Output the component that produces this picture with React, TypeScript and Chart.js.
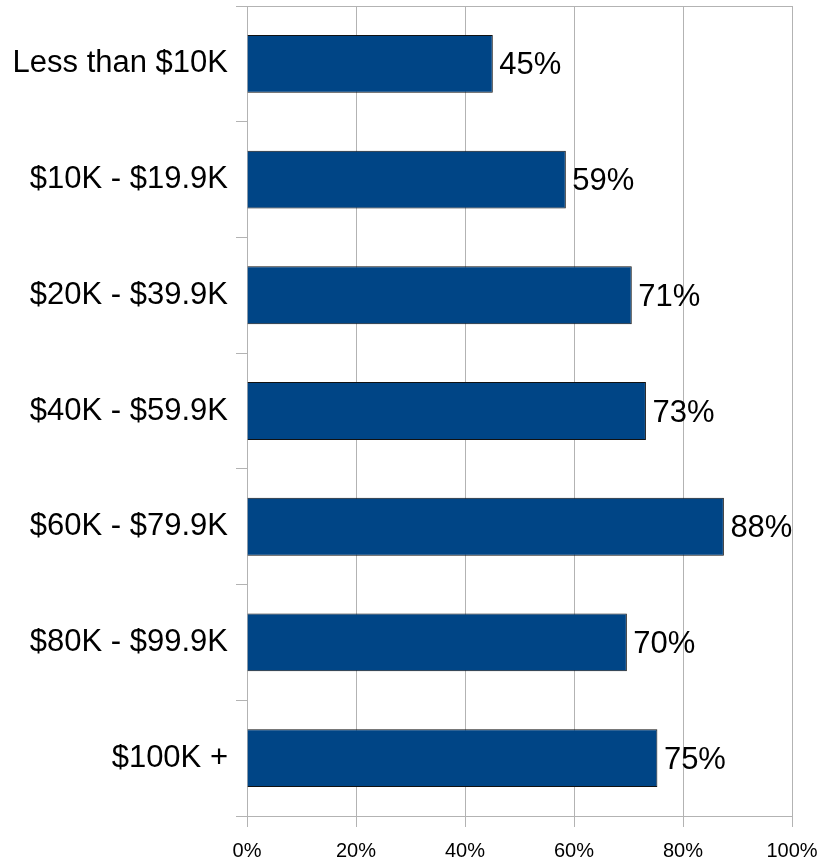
import React, { useEffect, useRef } from "react";
import { Chart, registerables } from "chart.js";

Chart.register(...registerables);

const categories = [
  "Less than $10K",
  "$10K - $19.9K",
  "$20K - $39.9K",
  "$40K - $59.9K",
  "$60K - $79.9K",
  "$80K - $99.9K",
  "$100K +",
];
const values = [45.1, 58.5, 70.6, 73.2, 87.5, 69.7, 75.3];
const xTicks = [0, 20, 40, 60, 80, 100];

const FONT = "'Liberation Sans', Arial, sans-serif";
const GRID = "#b3b3b3";

const valueLabels = {
  id: "valueLabels",
  afterDatasetsDraw(chart: any) {
    const ctx = chart.ctx;
    const meta = chart.getDatasetMeta(0);
    ctx.save();
    ctx.font = `31px ${FONT}`;
    ctx.fillStyle = "#000";
    ctx.textAlign = "left";
    ctx.textBaseline = "middle";
    meta.data.forEach((bar: any, i: number) => {
      const v = chart.data.datasets[0].data[i] as number;
      ctx.fillText(Math.round(v) + "%", bar.x + 6.5, bar.y + 2);
    });
    ctx.restore();
  },
};

export default function App() {
  const ref = useRef<HTMLCanvasElement>(null);
  useEffect(() => {
    if (!ref.current) return;
    const chart = new Chart(ref.current, {
      type: "bar",
      data: {
        labels: categories,
        datasets: [
          {
            data: values,
            backgroundColor: "#004586",
            borderColor: "#111111",
            borderWidth: 1,
            barPercentage: 0.5,
            categoryPercentage: 1,
          },
        ],
      },
      options: {
        indexAxis: "y",
        responsive: false,
        animation: false,
        layout: { padding: { top: 6, right: 28, left: 0, bottom: 0 } },
        plugins: {
          legend: { display: false },
          tooltip: { enabled: false },
        },
        scales: {
          x: {
            min: 0,
            max: 100,
            afterBuildTicks: (scale: any) => {
              scale.ticks = xTicks.map((v) => ({ value: v }));
            },
            afterFit: (scale: any) => {
              scale.height = 46;
              scale.paddingLeft = 0;
              scale.paddingRight = 0;
            },
            ticks: {
              autoSkip: false,
              maxRotation: 0,
              padding: 12,
              color: "#000",
              font: { family: FONT, size: 20 },
              callback: (v: any) => v + "%",
            },
            grid: {
              color: GRID,
              tickColor: GRID,
              tickLength: 11,
              lineWidth: 1,
            },
            border: { display: true, color: GRID },
          },
          y: {
            afterFit: (scale: any) => {
              scale.width = 247;
              scale.paddingTop = 0;
              scale.paddingBottom = 0;
            },
            ticks: {
              color: "#000",
              padding: 8,
              font: { family: FONT, size: 31 },
            },
            grid: {
              offset: true,
              drawOnChartArea: true,
              color: (c: any) => (c.index === 0 ? GRID : "rgba(0,0,0,0)"),
              tickColor: GRID,
              tickLength: 11,
            },
            border: { display: true, color: GRID },
          },
        },
      },
      plugins: [valueLabels],
    });
    return () => chart.destroy();
  }, []);
  return (
    <div style={{ position: "fixed", left: 0, top: 0, width: 820, height: 862, background: "#fff" }}>
      <canvas ref={ref} width={820} height={862} />
    </div>
  );
}
